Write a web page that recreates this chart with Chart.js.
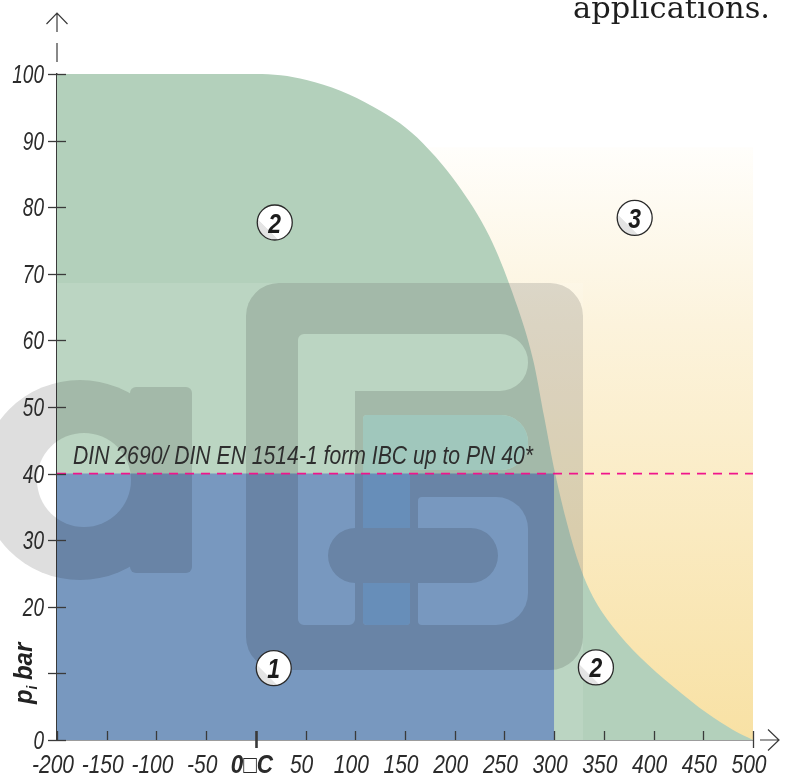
<!DOCTYPE html>
<html>
<head>
<meta charset="utf-8">
<script src="https://cdn.jsdelivr.net/npm/chart.js@4.4.0/dist/chart.umd.min.js"></script>
<style>
  html, body { margin: 0; padding: 0; background: #fff; }
</style>
</head>
<body>
<canvas id="myChart" width="788" height="776"></canvas>
<script>
// axis ticks
const xTicks = [-200, -150, -100, -50, 0, 50, 100, 150, 200, 250, 300, 350, 400, 450, 500];
const yTicks = [0, 10, 20, 30, 40, 50, 60, 70, 80, 90, 100];
const xTickLabels = ["-200", "-150", "-100", "-50", "0\u25A1C", "50", "100", "150", "200", "250", "300", "350", "400", "450", "500"];
// the axis title takes the place of "10"
const yTickLabels = ["0", "", "20", "30", "40", "50", "60", "70", "80", "90", "100"];

// boundary of range 2 (temperature °C vs pressure bar)
const curveX = [-200, 0, 25, 51, 85, 118, 145, 168, 202, 235, 258, 279, 290, 301, 313, 326, 339, 359, 386, 420, 454, 480, 500];
const curveY = [100, 100, 99.8, 99.1, 97.5, 95.1, 92.6, 89.6, 83.6, 75.6, 67.2, 57, 48.5, 40, 32.5, 26, 21.5, 17, 12.5, 8, 4, 1.5, 0];

// range 1 (IBC form up to PN 40)
const rangeOneX = [-200, 300];
const rangeOneY = [40, 40];

// range 3 background
const rangeThreeX = [170, 500];
const rangeThreeY = [89, 89];

// DIN limit line
const limitX = [-200, 500];
const limitY = [40, 40];

// numbered zone markers
const zoneLabels = ["1", "2", "2", "3"];
const zoneX = [18, 19, 342, 381];
const zoneY = [10.8, 77.7, 10.9, 78.4];

const SANS = "'Liberation Sans', Arimo, Arial, sans-serif";

function pts(xs, ys) {
  return xs.map((x, i) => ({ x: x, y: ys[i] }));
}

// text squeezed horizontally, to get a condensed face
function narrowText(ctx, text, x, y, squeeze, align) {
  const w = ctx.measureText(text).width * squeeze;
  let left = x;
  if (align === "center") left = x - w / 2;
  if (align === "right") left = x - w;
  ctx.save();
  ctx.translate(left, y);
  ctx.scale(squeeze, 1);
  ctx.textAlign = "left";
  ctx.fillText(text, 0, 0);
  ctx.restore();
}

// watermark logo, drawn once on its own canvas
function makeLogo(w, h) {
  const c = document.createElement("canvas");
  c.width = w;
  c.height = h;
  const g = c.getContext("2d");
  const grey = "#dedede";
  g.fillStyle = grey;

  // "a"
  g.beginPath();
  g.arc(80, 480, 100, 0, Math.PI * 2);
  g.fill();
  g.beginPath();
  g.roundRect(130, 387, 62, 186, 6);
  g.fill();
  g.globalCompositeOperation = "destination-out";
  g.beginPath();
  g.arc(84, 480, 47, 0, Math.PI * 2);
  g.fill();
  g.globalCompositeOperation = "source-over";

  // square sign
  g.beginPath();
  g.roundRect(246, 283, 337, 387, 33);
  g.fill();
  g.globalCompositeOperation = "destination-out";
  g.beginPath();
  g.roundRect(298, 334, 57, 291, 6);
  g.roundRect(298, 334, 230, 57, [6, 28, 28, 6]);
  g.fill();
  g.beginPath();
  g.roundRect(363, 415, 47, 210, 4);
  g.roundRect(363, 415, 165, 55, [4, 27, 27, 4]);
  g.fill();
  g.beginPath();
  g.roundRect(418, 497, 110, 128, [4, 32, 32, 4]);
  g.fill();
  g.globalCompositeOperation = "source-over";
  g.fillStyle = "#daeff7";
  g.beginPath();
  g.roundRect(363, 415, 47, 210, 4);
  g.roundRect(363, 415, 165, 55, [4, 27, 27, 4]);
  g.fill();
  g.fillStyle = grey;
  g.beginPath();
  g.roundRect(328, 528, 170, 55, 27.5);
  g.fill();
  return c;
}

const decor = {
  id: "decor",
  beforeDatasetDraw(chart, args) {
    const ctx = chart.ctx;
    const a = chart.chartArea;
    if (args.index === 2) {
      // pale veil behind range 1
      ctx.save();
      ctx.beginPath();
      ctx.rect(a.left, a.top, a.right - a.left, a.bottom - a.top);
      ctx.clip();
      ctx.fillStyle = "rgba(255,255,255,0.11)";
      ctx.fillRect(0, 283, 583, a.bottom - 283);
      ctx.restore();
    }
    if (args.index === 0) {
      if (!this.logo) this.logo = makeLogo(chart.width, chart.height);
      ctx.save();
      ctx.globalCompositeOperation = "multiply";
      ctx.drawImage(this.logo, 0, 0);
      ctx.restore();
    }
  },
  afterDatasetsDraw(chart) {
    const ctx = chart.ctx;
    const xs = chart.scales.x;
    const ys = chart.scales.y;
    const a = chart.chartArea;
    ctx.save();
    ctx.strokeStyle = "#3a3a3a";
    ctx.lineWidth = 1.3;

    // y ticks cross the axis
    yTicks.forEach(v => {
      const py = Math.round(ys.getPixelForValue(v)) + 0.5;
      ctx.beginPath();
      ctx.moveTo(a.left - 9, py);
      ctx.lineTo(a.left + 9, py);
      ctx.stroke();
    });
    // x ticks sit inside
    xTicks.forEach(v => {
      const px = Math.round(xs.getPixelForValue(v)) + 0.5;
      ctx.beginPath();
      ctx.lineWidth = v === 0 ? 2.6 : 1.3;
      ctx.moveTo(px, a.bottom - 9);
      ctx.lineTo(px, v === 0 || v === 500 ? a.bottom + 8 : a.bottom);
      ctx.stroke();
    });

    // axis arrows
    ctx.lineWidth = 1.2;
    ctx.beginPath();
    ctx.moveTo(a.left, 13); ctx.lineTo(a.left, 32);
    ctx.moveTo(a.left, 43); ctx.lineTo(a.left, 62);
    ctx.moveTo(a.left - 10.5, 24); ctx.lineTo(a.left, 13); ctx.lineTo(a.left + 10.5, 24);
    ctx.moveTo(a.right + 7, a.bottom); ctx.lineTo(a.right + 26, a.bottom);
    ctx.moveTo(a.right + 15, a.bottom - 10.5); ctx.lineTo(a.right + 26, a.bottom); ctx.lineTo(a.right + 15, a.bottom + 10.5);
    ctx.stroke();

    // tick labels
    ctx.fillStyle = "#2b2b2b";
    ctx.textBaseline = "alphabetic";
    ctx.font = "italic 25px " + SANS;
    yTicks.forEach((v, i) => {
      if (!yTickLabels[i]) return;
      narrowText(ctx, yTickLabels[i], a.left - 13, ys.getPixelForValue(v) + 9, 0.76, "right");
    });
    xTicks.forEach((v, i) => {
      const bold = v === 0;
      ctx.font = (bold ? "italic bold " : "italic ") + "25px " + SANS;
      narrowText(ctx, xTickLabels[i], xs.getPixelForValue(v) - 4, a.bottom + 33, bold ? 0.9 : 0.84, "center");
    });

    // limit note
    ctx.fillStyle = "#2e2e2e";
    ctx.font = "italic 25px " + SANS;
    const note = "DIN 2690/ DIN EN 1514-1 form IBC up to PN 40*";
    const nx = xs.getPixelForValue(-200) + 16;
    const ny = ys.getPixelForValue(40) - 10;
    const nw = ctx.measureText(note).width;
    ctx.save();
    ctx.translate(nx, ny);
    ctx.scale(460 / nw, 1);
    ctx.fillText(note, 0, 0);
    ctx.restore();

    // zone markers
    zoneLabels.forEach((lab, i) => {
      const px = xs.getPixelForValue(zoneX[i]);
      const py = ys.getPixelForValue(zoneY[i]);
      const r = 17.5;
      ctx.save();
      ctx.beginPath();
      ctx.arc(px, py, r, 0, Math.PI * 2);
      const gr = ctx.createLinearGradient(px - r, py + r, px + r * 0.2, py - r * 0.2);
      gr.addColorStop(0, "#e2e2e2");
      gr.addColorStop(0.5, "#e4e4e4");
      gr.addColorStop(0.52, "#ffffff");
      gr.addColorStop(1, "#ffffff");
      ctx.fillStyle = gr;
      ctx.fill();
      ctx.strokeStyle = "#2a2a2a";
      ctx.lineWidth = 1.3;
      ctx.stroke();
      ctx.fillStyle = "#1c1c1c";
      ctx.font = "italic bold 27px " + SANS;
      ctx.textBaseline = "alphabetic";
      narrowText(ctx, lab, px, py + 10, 0.85, "center");
      ctx.restore();
    });

    // y axis title p_i bar
    ctx.save();
    ctx.translate(32, 704);
    ctx.rotate(-Math.PI / 2);
    ctx.fillStyle = "#222";
    ctx.textBaseline = "alphabetic";
    ctx.font = "italic bold 26px " + SANS;
    ctx.scale(0.92, 1);
    ctx.fillText("p", 0, 0);
    let w = ctx.measureText("p").width;
    ctx.font = "italic bold 15px " + SANS;
    ctx.fillText("i", w, 5);
    w += ctx.measureText("i").width + 6;
    ctx.font = "italic bold 26px " + SANS;
    ctx.fillText("bar", w, 0);
    ctx.restore();

    // running text at top of page
    ctx.save();
    ctx.fillStyle = "#1e1e1e";
    ctx.font = "29px 'DejaVu Serif', 'Liberation Serif', serif";
    const t = "applications.";
    const tw = ctx.measureText(t).width;
    ctx.translate(573, 18);
    ctx.scale(197 / tw, 1);
    ctx.fillText(t, 0, 0);
    ctx.restore();

    ctx.restore();
  }
};

const ctx = document.getElementById("myChart");

const rangeThreeFill = function (c) {
  const chart = c.chart;
  const a = chart.chartArea;
  if (!a) return "#f8e3a8";
  const y = chart.scales.y;
  const g = chart.ctx.createLinearGradient(0, y.getPixelForValue(rangeThreeY[0]), 0, a.bottom);
  g.addColorStop(0, "#fffefb");
  g.addColorStop(0.3, "#fcf3dc");
  g.addColorStop(1, "#f8e1a4");
  return g;
};

const myChart = new Chart(ctx, {
  type: "line",
  data: {
    datasets: [
      {
        label: "DIN limit",
        data: pts(limitX, limitY),
        borderColor: "#f0158c",
        borderWidth: 1.7,
        borderDash: [9, 7],
        pointRadius: 0,
        fill: false,
        order: 0
      },
      {
        label: "Range 1",
        data: pts(rangeOneX, rangeOneY),
        backgroundColor: "#7898bf",
        borderWidth: 0,
        pointRadius: 0,
        fill: "origin",
        order: 1
      },
      {
        label: "Range 2",
        data: pts(curveX, curveY),
        backgroundColor: "#b3d0bb",
        borderWidth: 0,
        pointRadius: 0,
        cubicInterpolationMode: "monotone",
        fill: "origin",
        order: 2
      },
      {
        label: "Range 3",
        data: pts(rangeThreeX, rangeThreeY),
        backgroundColor: rangeThreeFill,
        borderWidth: 0,
        pointRadius: 0,
        fill: "origin",
        order: 3
      }
    ]
  },
  options: {
    responsive: false,
    animation: false,
    layout: { padding: { left: 0, right: 35, top: 74, bottom: 0 } },
    plugins: {
      legend: { display: false },
      tooltip: { enabled: false }
    },
    scales: {
      x: {
        type: "linear",
        min: -200,
        max: 500,
        afterBuildTicks: s => { s.ticks = xTicks.map(v => ({ value: v })); },
        afterFit: s => { s.height = 36; },
        grid: { display: false, drawTicks: false },
        border: { display: true, color: "#3a3a3a", width: 1.4 },
        ticks: { display: false }
      },
      y: {
        min: 0,
        max: 100,
        afterBuildTicks: s => { s.ticks = yTicks.map(v => ({ value: v })); },
        afterFit: s => { s.width = 57; },
        grid: { display: false, drawTicks: false },
        border: { display: true, color: "#3a3a3a", width: 1.4 },
        ticks: { display: false }
      }
    }
  },
  plugins: [decor]
});
</script>
</body>
</html>
